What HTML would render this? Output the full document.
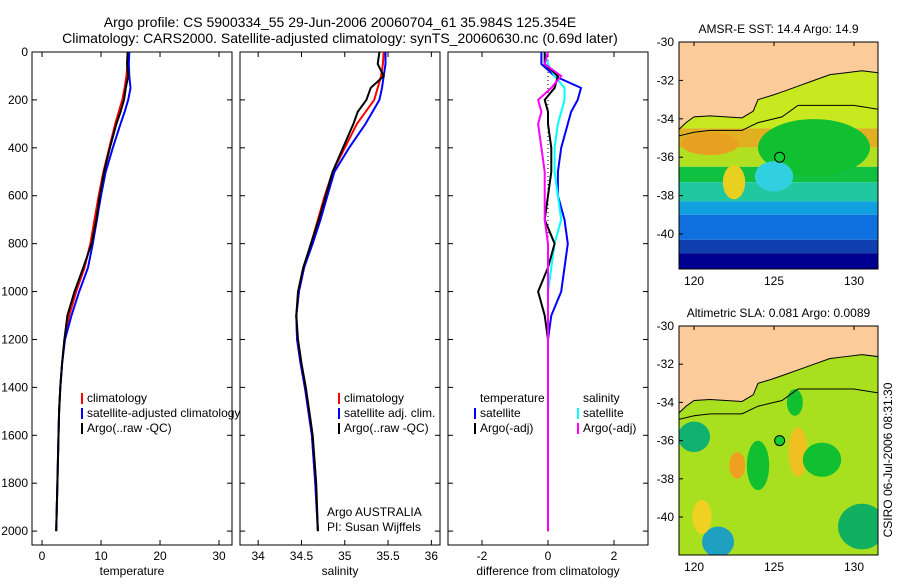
<!DOCTYPE html>
<html><head><meta charset="utf-8"><style>
body{margin:0;background:#fff;width:900px;height:580px;overflow:hidden;font-family:"Liberation Sans",sans-serif}
svg text{font-family:"Liberation Sans",sans-serif;font-size:12px;fill:#000}
svg text.ttl{font-size:14px}
</style></head><body>
<svg id="c" width="900" height="580">
<text class="ttl" x="340" y="27" text-anchor="middle">Argo profile: CS 5900334_55 29-Jun-2006 20060704_61 35.984S 125.354E</text>
<text class="ttl" x="340" y="43" text-anchor="middle">Climatology: CARS2000. Satellite-adjusted climatology: synTS_20060630.nc (0.69d later)</text>
<g id="maps"></g>
<g id="plots"></g>
<text transform="translate(892,460) rotate(-90)" text-anchor="middle">CSIRO 06-Jul-2006 08:31:30</text>
</svg>
<script>
// depth levels (dbar)
const depth = [0,50,100,150,200,250,300,400,500,600,700,800,900,1000,1100,1200,1300,1400,1500,1600,1800,2000];
// temperature profiles
const tempClim = [14.6,14.5,14.3,14.0,13.6,13.0,12.4,11.4,10.4,9.6,8.9,8.2,7.2,5.8,4.6,3.8,3.4,3.1,2.9,2.8,2.6,2.4];
const tempSat  = [14.8,14.7,14.8,15.0,14.6,14.0,13.3,12.0,10.8,10.0,9.3,8.6,7.8,6.3,5.0,3.9,3.4,3.1,2.9,2.8,2.6,2.4];
const tempArgo = [14.5,14.4,14.6,14.2,13.9,13.3,12.6,11.5,10.5,9.8,9.2,8.4,7.0,5.5,4.3,3.8,3.4,3.1,2.9,2.8,2.6,2.4];
// salinity profiles
const salClim = [35.45,35.44,35.42,35.38,35.34,35.24,35.14,35.00,34.86,34.77,34.69,34.61,34.53,34.47,34.44,34.45,34.49,34.54,34.58,34.62,34.66,34.69];
const salSat  = [35.47,35.47,35.45,35.43,35.40,35.32,35.24,35.05,34.88,34.80,34.72,34.63,34.53,34.47,34.44,34.45,34.49,34.54,34.58,34.62,34.66,34.69];
const salArgo = [35.40,35.38,35.45,35.30,35.25,35.15,35.10,34.98,34.86,34.78,34.70,34.61,34.52,34.46,34.44,34.46,34.50,34.55,34.59,34.63,34.67,34.69];
// differences from climatology
const dTempSat  = [-0.2,-0.2,0.2,1.0,0.9,0.7,0.6,0.4,0.3,0.3,0.5,0.6,0.5,0.4,0.1,0.0,0.0,0.0,0.0,0.0,0.0,0.0];
const dTempArgo = [-0.1,-0.1,0.3,0.2,-0.1,0.0,0.0,0.1,0.1,0.0,-0.1,0.2,0.0,-0.3,-0.1,0.0,0.0,0.0,0.0,0.0,0.0,0.0];
const dSalSat   = [-0.1,0.0,0.2,0.5,0.5,0.4,0.3,0.2,0.2,0.3,0.4,0.2,0.1,0.0,0.0,0.0,0.0,0.0,0.0,0.0,0.0,0.0];
const dSalArgo  = [0.0,-0.1,0.4,0.1,-0.3,-0.2,-0.3,-0.2,-0.1,-0.1,-0.1,0.0,0.0,0.0,0.0,0.0,0.0,0.0,0.0,0.0,0.0,0.0];
const depthTicks = [0,200,400,600,800,1000,1200,1400,1600,1800,2000];
const tTicks = [0,10,20,30];
const sTicks = [34,34.5,35,35.5,36];
const dTicks = [-2,0,2];

const NS='http://www.w3.org/2000/svg';
const svg=document.getElementById('plots');
function el(t,a,p){const e=document.createElementNS(NS,t);for(const k in a)e.setAttribute(k,a[k]);(p||svg).appendChild(e);return e;}
const Y0=52,Y1=545,DMAX=2058;
function yD(d){return Y0+d/DMAX*(Y1-Y0);}

function panel(name,x0,x1,xmin,xmax,ticks,xlabel,series){
  const sx=v=>x0+(v-xmin)/(xmax-xmin)*(x1-x0);
  const g=el('g',{});
  
  
  const r=el('rect',{x:x0,y:Y0,width:x1-x0,height:Y1-Y0,fill:'#fff',stroke:'#000','stroke-width':1},g);
  
  
  ticks.forEach(t=>{
    const x=sx(t);
    el('line',{x1:x,x2:x,y1:Y1,y2:Y1-5,stroke:'#000'},g);
    el('line',{x1:x,x2:x,y1:Y0,y2:Y0+5,stroke:'#000'},g);
    const tx=el('text',{x:x,y:Y1+15,'text-anchor':'middle'},g);tx.textContent=t;
    
    
  });
  depthTicks.forEach(d=>{
    const y=yD(d);
    el('line',{x1:x0,x2:x0+5,y1:y,y2:y,stroke:'#000'},g);
    el('line',{x1:x1,x2:x1-5,y1:y,y2:y,stroke:'#000'},g);
  });
  const xl=el('text',{x:(x0+x1)/2,y:Y1+30,'text-anchor':'middle'},g);xl.textContent=xlabel;
  
  
  series.forEach(s=>{
    const n=s.len||s.v.length;
    const pts=s.v.slice(0,n).map((v,i)=>sx(v).toFixed(1)+','+yD(depth[i]).toFixed(1)).join(' ');
    const pl=el('polyline',{points:pts,fill:'none',stroke:s.c,'stroke-width':s.w||2,'stroke-dasharray':s.d||'none'},g);
    
    
  });
  return {g,sx};
}
const p1=panel('temperature-panel',32,232,-1.7,32.2,tTicks,'temperature',[
 {v:tempClim,c:'#f00',n:'temp-climatology-line'},{v:tempSat,c:'#00f',n:'temp-satellite-line'},{v:tempArgo,c:'#000',n:'temp-argo-line'}]);
depthTicks.forEach(d=>{const t=el('text',{x:28,y:yD(d)+4,'text-anchor':'end'});t.textContent=d;
 
 });
const p2=panel('salinity-panel',240,440,33.79,36.1,sTicks,'salinity',[
 {v:salClim,c:'#f00',n:'sal-climatology-line'},{v:salSat,c:'#00f',n:'sal-satellite-line'},{v:salArgo,c:'#000',n:'sal-argo-line'}]);
const p3=panel('difference-panel',448,648,-3.03,3.03,dTicks,'difference from climatology',[
 {v:depth.map(()=>0),len:15,c:'#000',w:1,d:'1,3',n:'zero-line'},
 {v:dTempSat,c:'#00f',n:'diff-temp-satellite-line'},{v:dSalSat,c:'#0ff',n:'diff-sal-satellite-line'},
 {v:dTempArgo,c:'#000',n:'diff-temp-argo-line'},{v:dSalArgo,c:'#f0f',n:'diff-sal-argo-line'}]);

function legend(x,y,items){
  items.forEach((it,i)=>{
    const yy=y+i*15;
    if(it.c)el('line',{x1:x,x2:x,y1:yy-9,y2:yy+2,stroke:it.c,'stroke-width':2});
    const t=el('text',{x:x+5,y:yy});t.textContent=it.t;
    
    
  });
}
legend(82,402,[{c:'#f00',t:'climatology'},{c:'#00f',t:'satellite-adjusted climatology'},{c:'#000',t:'Argo(..raw -QC)'}]);
legend(339,402,[{c:'#f00',t:'climatology'},{c:'#00f',t:'satellite adj. clim.'},{c:'#000',t:'Argo(..raw -QC)'}]);
legend(475,402,[{c:null,t:'temperature'},{c:'#00f',t:'satellite'},{c:'#000',t:'Argo(-adj)'}]);
legend(578,402,[{c:null,t:'salinity'},{c:'#0ff',t:'satellite'},{c:'#f0f',t:'Argo(-adj)'}]);
const a1=el('text',{x:327,y:516});a1.textContent='Argo AUSTRALIA';


const a2=el('text',{x:327,y:531});a2.textContent='PI: Susan Wijffels';



const mg=document.getElementById('maps');
function map(name,title,top,lat40,bottom,bands,blobs){
  const x0=679,x1=878;
  const lx=v=>x0+(v-119.06)/(131.5-119.06)*(x1-x0);
  const ly=v=>top+(-30-v)/10*(lat40-top);
  const g=el('g',{},mg);
  
  
  const cid='clip'+name;
  const cp=el('clipPath',{id:cid},g);el('rect',{x:x0,y:top,width:x1-x0,height:bottom-top},cp);
  const inner=el('g',{'clip-path':'url(#'+cid+')'},g);
  bands.forEach(b=>el('rect',{x:x0,y:ly(b[0]),width:x1-x0,height:ly(b[1])-ly(b[0]),fill:b[2]},inner));
  blobs.forEach(b=>el('ellipse',{cx:lx(b[0]),cy:ly(b[1]),rx:b[2]*16,ry:b[3]*19,fill:b[4]},inner));
  const coast=[[119,-34.6],[119.5,-34.2],[120,-33.9],[121,-33.85],[122,-33.9],[123,-33.95],[123.7,-33.6],[124,-33.0],[124.8,-32.8],[125.5,-32.6],[126.5,-32.3],[127.5,-32.0],[128.5,-31.7],[129.5,-31.6],[130.5,-31.5],[131.5,-31.6]];
  const land=coast.map(p=>lx(p[0])+','+ly(p[1])).join(' ')+' '+lx(131.5)+','+top+' '+lx(119)+','+top;
  el('polygon',{points:land,fill:'#fccb9a',stroke:'#000','stroke-width':1},inner);
  const iso=[[119,-34.9],[120,-34.7],[121,-34.6],[123,-34.6],[124,-34.2],[125.5,-33.9],[126.5,-33.3],[128,-33.3],[130,-33.3],[131.5,-33.5]];
  el('polyline',{points:iso.map(p=>lx(p[0])+','+ly(p[1])).join(' '),fill:'none',stroke:'#000','stroke-width':1},inner);
  el('circle',{cx:lx(125.35),cy:ly(-36),r:5,fill:'#1c3',stroke:'#000'},g);
  el('rect',{x:x0,y:top,width:x1-x0,height:bottom-top,fill:'none',stroke:'#000'},g);
  const t=el('text',{x:(x0+x1)/2,y:top-9,'text-anchor':'middle'},g);t.textContent=title;
  
  
  [-30,-32,-34,-36,-38,-40].forEach(v=>{const y=ly(v);el('line',{x1:x0,x2:x0+4,y1:y,y2:y,stroke:'#000'},g);
   const tt=el('text',{x:x0-5,y:y+4,'text-anchor':'end'},g);tt.textContent=v;
   
   });
  [120,125,130].forEach(v=>{const x=lx(v);el('line',{x1:x,x2:x,y1:top,y2:top+4,stroke:'#000'},g);
   const tt=el('text',{x:x,y:bottom+16,'text-anchor':'middle'},g);tt.textContent=v;
   
   });
}
map('sst-map','AMSR-E SST: 14.4  Argo: 14.9',42,234,269,
 [[-30,-34.5,'#c8e820'],[-34.5,-35.5,'#e0b020'],[-35.5,-36.5,'#b0e020'],[-36.5,-37.3,'#10c040'],[-37.3,-38.3,'#20c8a0'],[-38.3,-39,'#10a0e0'],[-39,-40.3,'#1070e0'],[-40.3,-41,'#1040b0'],[-41,-43,'#000090']],
 [[127.5,-35.5,3.5,1.5,'#10c030'],[125,-37,1.2,0.8,'#30d0e0'],[122.5,-37.3,0.7,0.9,'#e8d020'],[121,-35.3,1.8,0.6,'#e8a020']]);
map('sla-map','Altimetric SLA: 0.081  Argo: 0.0089',326,517,555,
 [[-30,-43,'#a8e020']],
 [[120,-35.8,1,0.8,'#10b070'],[124,-37.3,0.7,1.3,'#10c030'],[126.5,-36.6,0.6,1.3,'#f0c020'],[122.7,-37.3,0.5,0.7,'#f0a020'],[121.5,-41.3,1,0.8,'#20a0c0'],[130.5,-40.5,1.5,1.2,'#10b060'],[128,-37,1.2,0.9,'#10c030'],[120.5,-40,0.6,0.9,'#f0d020'],[126.3,-34,0.5,0.7,'#10c030']]);
</script>
</body></html>
